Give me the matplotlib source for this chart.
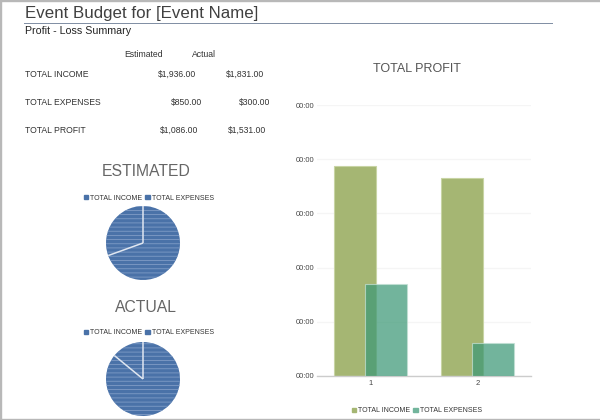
import matplotlib

matplotlib.use("Agg")
import matplotlib.pyplot as plt
import numpy as np
from matplotlib.patches import Patch, Rectangle

plt.rcParams["font.family"] = ["Liberation Sans", "DejaVu Sans"]
plt.rcParams["hatch.linewidth"] = 0.6

W, H = 600, 420

rows = ["TOTAL INCOME", "TOTAL EXPENSES", "TOTAL PROFIT"]
estimated_labels = ["$1,936.00", "$850.00", "$1,086.00"]
actual_labels = ["$1,831.00", "$300.00", "$1,531.00"]

series = ["TOTAL INCOME", "TOTAL EXPENSES"]
groups = ["1", "2"]
income = [1936, 1831]
expenses = [850, 300]
estimated = [1936, 850]
actual = [1831, 300]
y_ticks = [0, 500, 1000, 1500, 2000, 2500]
y_tick_labels = ["00:00"] * 6

PIE = "#4a72a8"
GREEN = "#a5b673"
TEAL = "#3c9876"
TEXT = "#333333"


def axes_px(fig, left, top, right, bottom):
    # pixel box, measured from the top left of the image
    return fig.add_axes([left / W, 1 - bottom / H, (right - left) / W, (bottom - top) / H])


def px_text(fig, x, y, s, size=6.2, color=TEXT, ha="left"):
    fig.text(x / W, 1 - y / H, s, fontsize=size, color=color, ha=ha, va="center")


def draw_pie(fig, values, cx, cy, r, title, title_y, legend_y):
    ax = axes_px(fig, cx - r, cy - r, cx + r, cy + r)
    wedges, _ = ax.pie(values, startangle=90, counterclock=False, radius=1,
                       colors=[PIE, PIE], wedgeprops={"linewidth": 0})
    for w in wedges:
        w.set_edgecolor("#7f9cc6")
        w.set_linewidth(0)
        w.set_hatch("----")
    # light separators between the slices, no outer ring
    split = np.pi / 2 - 2 * np.pi * values[0] / sum(values)
    ax.plot([0, 0], [0, 1], color="#dfe6f0", lw=1.1, solid_capstyle="butt")
    ax.plot([0, np.cos(split)], [0, np.sin(split)], color="#dfe6f0", lw=1.1, solid_capstyle="butt")
    ax.set_xlim(-1, 1)
    ax.set_ylim(-1, 1)
    px_text(fig, 146, title_y, title, size=11.3, color="#666666", ha="center")
    handles = [Patch(color=PIE), Patch(color=PIE)]
    fig.legend(handles, series, loc="center", bbox_to_anchor=(149 / W, 1 - legend_y / H), ncol=2,
               frameon=False, fontsize=5.0, handlelength=0.6, handleheight=0.6, handletextpad=0.35,
               columnspacing=0.4, labelcolor=TEXT, borderpad=0)


fig = plt.figure(figsize=(W / 100, H / 100), dpi=100)

# screenshot frame
fig.patches.append(Rectangle((0, 0), 1 / W, 1, transform=fig.transFigure, color="#b8b8b8"))
fig.patches.append(Rectangle((0, 1 - 1 / H), 1, 1 / H, transform=fig.transFigure, color="#b8b8b8"))
fig.patches.append(Rectangle((0, 0), 1, 1.5 / H, transform=fig.transFigure, color="#b8b8b8"))

# header
px_text(fig, 25, 13.5, "Event Budget for [Event Name]", size=12.2, color="#404040")
fig.patches.append(Rectangle((24 / W, 1 - 23.5 / H), 529 / W, 1 / H, transform=fig.transFigure, color="#8290a5", linewidth=0))
px_text(fig, 25, 31, "Profit - Loss Summary", size=7.7, color="#222222")

# summary table
px_text(fig, 124.5, 54.5, "Estimated")
px_text(fig, 192, 54.5, "Actual")
row_y = [74.5, 102.5, 130.5]
est_x = [158, 171, 160]
act_x = [226, 239, 228]
for i, name in enumerate(rows):
    px_text(fig, 25, row_y[i], name)
    px_text(fig, est_x[i], row_y[i], estimated_labels[i])
    px_text(fig, act_x[i], row_y[i], actual_labels[i])

# pies
draw_pie(fig, estimated, 143, 243, 37, "ESTIMATED", 171, 198)
draw_pie(fig, actual, 143, 379, 37, "ACTUAL", 307, 333)

# bar chart
ax = axes_px(fig, 317, 105, 531, 376)
x = np.arange(len(groups))
ax.bar(x - 0.147, income, width=0.39, color=GREEN, edgecolor="#c8d4a4", linewidth=0.8, zorder=2)
ax.bar(x + 0.147, expenses, width=0.39, color=TEAL, alpha=0.72, edgecolor="#c3e0d4", linewidth=0.8, zorder=3)
ax.set_xlim(-0.5, 1.5)
ax.set_ylim(0, 2500)
ax.set_xticks(x)
ax.set_xticklabels(groups)
ax.set_yticks(y_ticks)
ax.set_yticklabels(y_tick_labels)
ax.tick_params(length=0, labelsize=5.5, labelcolor="#444444", pad=3)
ax.tick_params(axis="y", pad=2)
ax.grid(axis="y", color="#f5f5f5", linewidth=1, zorder=0)
for side in ["top", "right", "left"]:
    ax.spines[side].set_visible(False)
ax.spines["bottom"].set_color("#cccccc")
ax.spines["bottom"].set_linewidth(1)
px_text(fig, 417, 68.5, "TOTAL PROFIT", size=9, color="#555555", ha="center")
fig.legend([Patch(color=GREEN), Patch(color="#72b59c")], series, loc="center",
           bbox_to_anchor=(417 / W, 1 - 411 / H), ncol=2, frameon=False, fontsize=5.0, handlelength=0.6,
           handleheight=0.6, handletextpad=0.4, columnspacing=0.4, labelcolor=TEXT, borderpad=0)

fig.savefig("out.png", dpi=100)
